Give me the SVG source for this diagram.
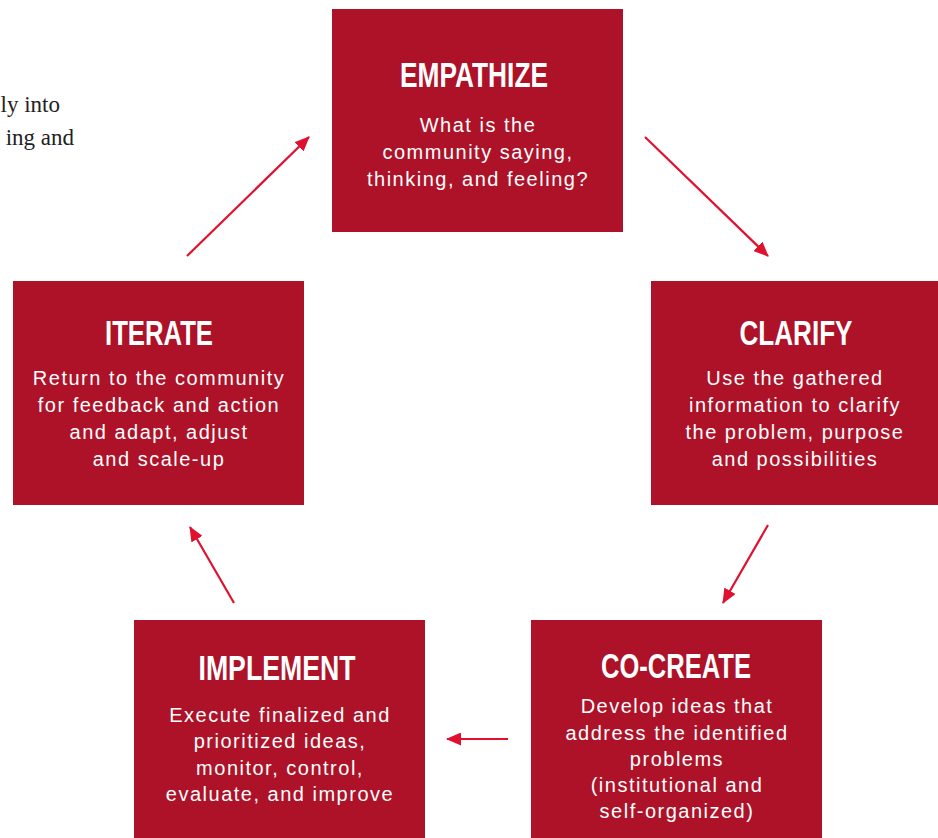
<svg xmlns="http://www.w3.org/2000/svg" width="938" height="838" viewBox="0 0 938 838">
  <style>
    .box { fill: #AD1228; }
    .title { font-family: "Liberation Sans", Arial, sans-serif; font-weight: bold; font-size: 35px; fill: #ffffff; text-anchor: middle; }
    .body { font-family: "Liberation Sans", Arial, sans-serif; font-size: 20px; letter-spacing: 1.5px; fill: #ffffff; text-anchor: middle; }
    .side { font-family: "Liberation Serif", "Times New Roman", serif; font-size: 23px; fill: #222222; text-anchor: end; }
    .link { stroke: #E0102F; stroke-width: 2.2; fill: none; marker-end: url(#head); }
  </style>
  <defs>
    <marker id="head" viewBox="0 0 15 13" refX="14" refY="6.5" markerWidth="15" markerHeight="13" markerUnits="userSpaceOnUse" orient="auto">
      <path d="M0,0 L15,6.5 L0,13 Z" fill="#E0102F"/>
    </marker>
  </defs>
  <rect width="938" height="838" fill="#ffffff"/>

  <!-- surrounding paragraph fragments -->
  <text class="side" x="60" y="112">ly into</text>
  <text class="side" x="74" y="145">ing and</text>

  <g id="empathize">
    <rect class="box" x="332" y="9" width="291" height="223"/>
    <text class="title" x="474" y="87" textLength="148" lengthAdjust="spacingAndGlyphs">EMPATHIZE</text>
    <text class="body" x="478" y="132">What is the</text>
    <text class="body" x="478" y="159">community saying,</text>
    <text class="body" x="478" y="186">thinking, and feeling?</text>
  </g>

  <g id="clarify">
    <rect class="box" x="651" y="281" width="287" height="224"/>
    <text class="title" x="796" y="345" textLength="113" lengthAdjust="spacingAndGlyphs">CLARIFY</text>
    <text class="body" x="795" y="385">Use the gathered</text>
    <text class="body" x="795" y="412">information to clarify</text>
    <text class="body" x="795" y="439">the problem, purpose</text>
    <text class="body" x="795" y="466">and possibilities</text>
  </g>

  <g id="co-create">
    <rect class="box" x="531" y="620" width="291" height="218"/>
    <text class="title" x="676" y="678" textLength="150" lengthAdjust="spacingAndGlyphs">CO-CREATE</text>
    <text class="body" x="677" y="713">Develop ideas that</text>
    <text class="body" x="677" y="740">address the identified</text>
    <text class="body" x="677" y="766">problems</text>
    <text class="body" x="677" y="792">(institutional and</text>
    <text class="body" x="677" y="818">self-organized)</text>
  </g>

  <g id="implement">
    <rect class="box" x="134" y="620" width="291" height="218"/>
    <text class="title" x="277" y="680" textLength="157" lengthAdjust="spacingAndGlyphs">IMPLEMENT</text>
    <text class="body" x="280" y="722">Execute finalized and</text>
    <text class="body" x="280" y="748">prioritized ideas,</text>
    <text class="body" x="280" y="775">monitor, control,</text>
    <text class="body" x="280" y="801">evaluate, and improve</text>
  </g>

  <g id="iterate">
    <rect class="box" x="13" y="281" width="291" height="224"/>
    <text class="title" x="159" y="345" textLength="108" lengthAdjust="spacingAndGlyphs">ITERATE</text>
    <text class="body" x="159" y="385">Return to the community</text>
    <text class="body" x="159" y="412">for feedback and action</text>
    <text class="body" x="159" y="439">and adapt, adjust</text>
    <text class="body" x="159" y="466">and scale-up</text>
  </g>

  <g id="connectors">
    <line class="link" x1="645" y1="137" x2="768" y2="256"/>
    <line class="link" x1="768" y1="525" x2="723" y2="603"/>
    <line class="link" x1="508" y1="739" x2="447" y2="739"/>
    <line class="link" x1="234" y1="603" x2="190" y2="527"/>
    <line class="link" x1="187" y1="256" x2="309" y2="137"/>
  </g>
</svg>
